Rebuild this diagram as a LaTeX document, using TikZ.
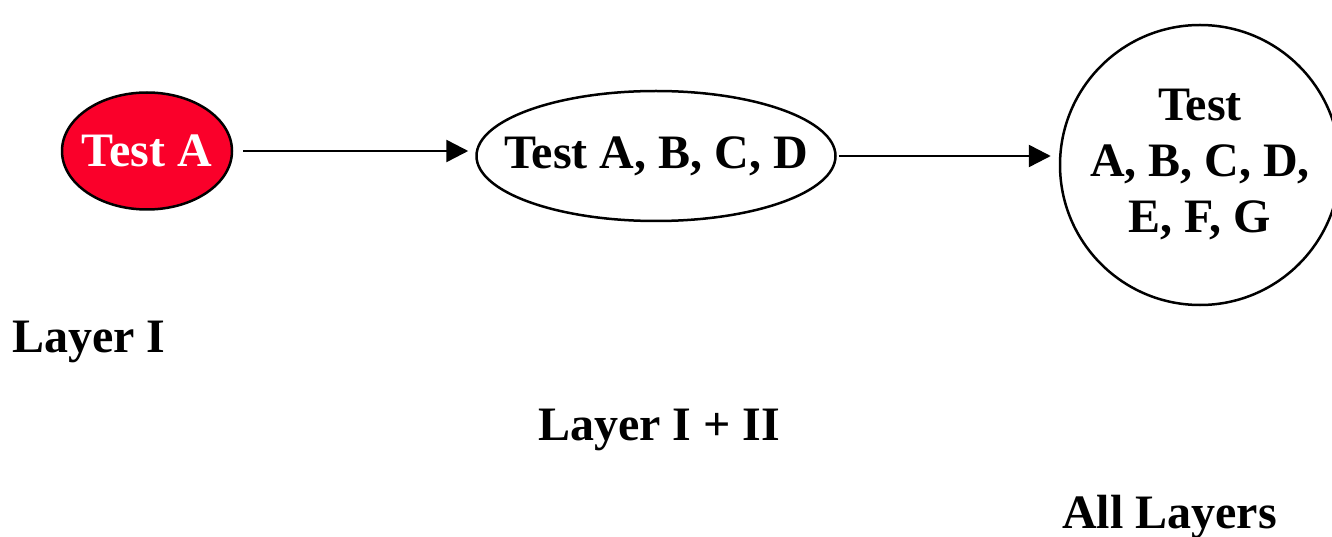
\documentclass[tikz,border=0pt]{standalone}
\usepackage{fontspec}
\setmainfont{Liberation Serif}
\usetikzlibrary{shapes.geometric,arrows.meta}
\definecolor{testred}{RGB}{250,0,42}

\begin{document}
\begin{tikzpicture}[x=1pt,y=-1pt,
        every node/.style={font=\fontsize{48}{56}\selectfont\bfseries},
        stage/.style={ellipse,draw,line width=2.5pt,inner sep=0pt},
        arrow/.style={line width=2.5pt,-{Triangle[length=22pt,width=22pt]}}]
    \useasboundingbox (0,0) rectangle (1332,537);
    \node[stage,fill=testred,text=white,minimum width=170pt,minimum height=117pt] (testA) at (147,151) {\makebox[0pt]{Test A}};
    \node[stage,minimum width=359pt,minimum height=130pt] (testABCD) at (656,156) {\makebox[0pt]{Test A, B, C, D}};
    \node[circle,draw,line width=2.5pt,minimum size=280pt,inner sep=0pt,align=center] (testAll) at (1200,165) {\makebox[0pt]{Test}\\\makebox[0pt]{A, B, C, D,}\\\makebox[0pt]{E, F, G}};
    \draw[arrow] ([xshift=10pt]testA.east) -- ([xshift=-7pt]testA.east -| testABCD.west);
    \draw[arrow] ([xshift=2pt]testABCD.east) -- ([xshift=-8pt]testABCD.east -| testAll.west);
    % layer labels
    \node[anchor=base west,inner sep=0pt] (layerI) at (12,352) {Layer I};
    \node[anchor=base west,inner sep=0pt] (layerII) at (538,440) {Layer I + II};
    \node[anchor=base west,inner sep=0pt] (layerAll) at (1062,528) {All Layers};
\end{tikzpicture}
\end{document}
